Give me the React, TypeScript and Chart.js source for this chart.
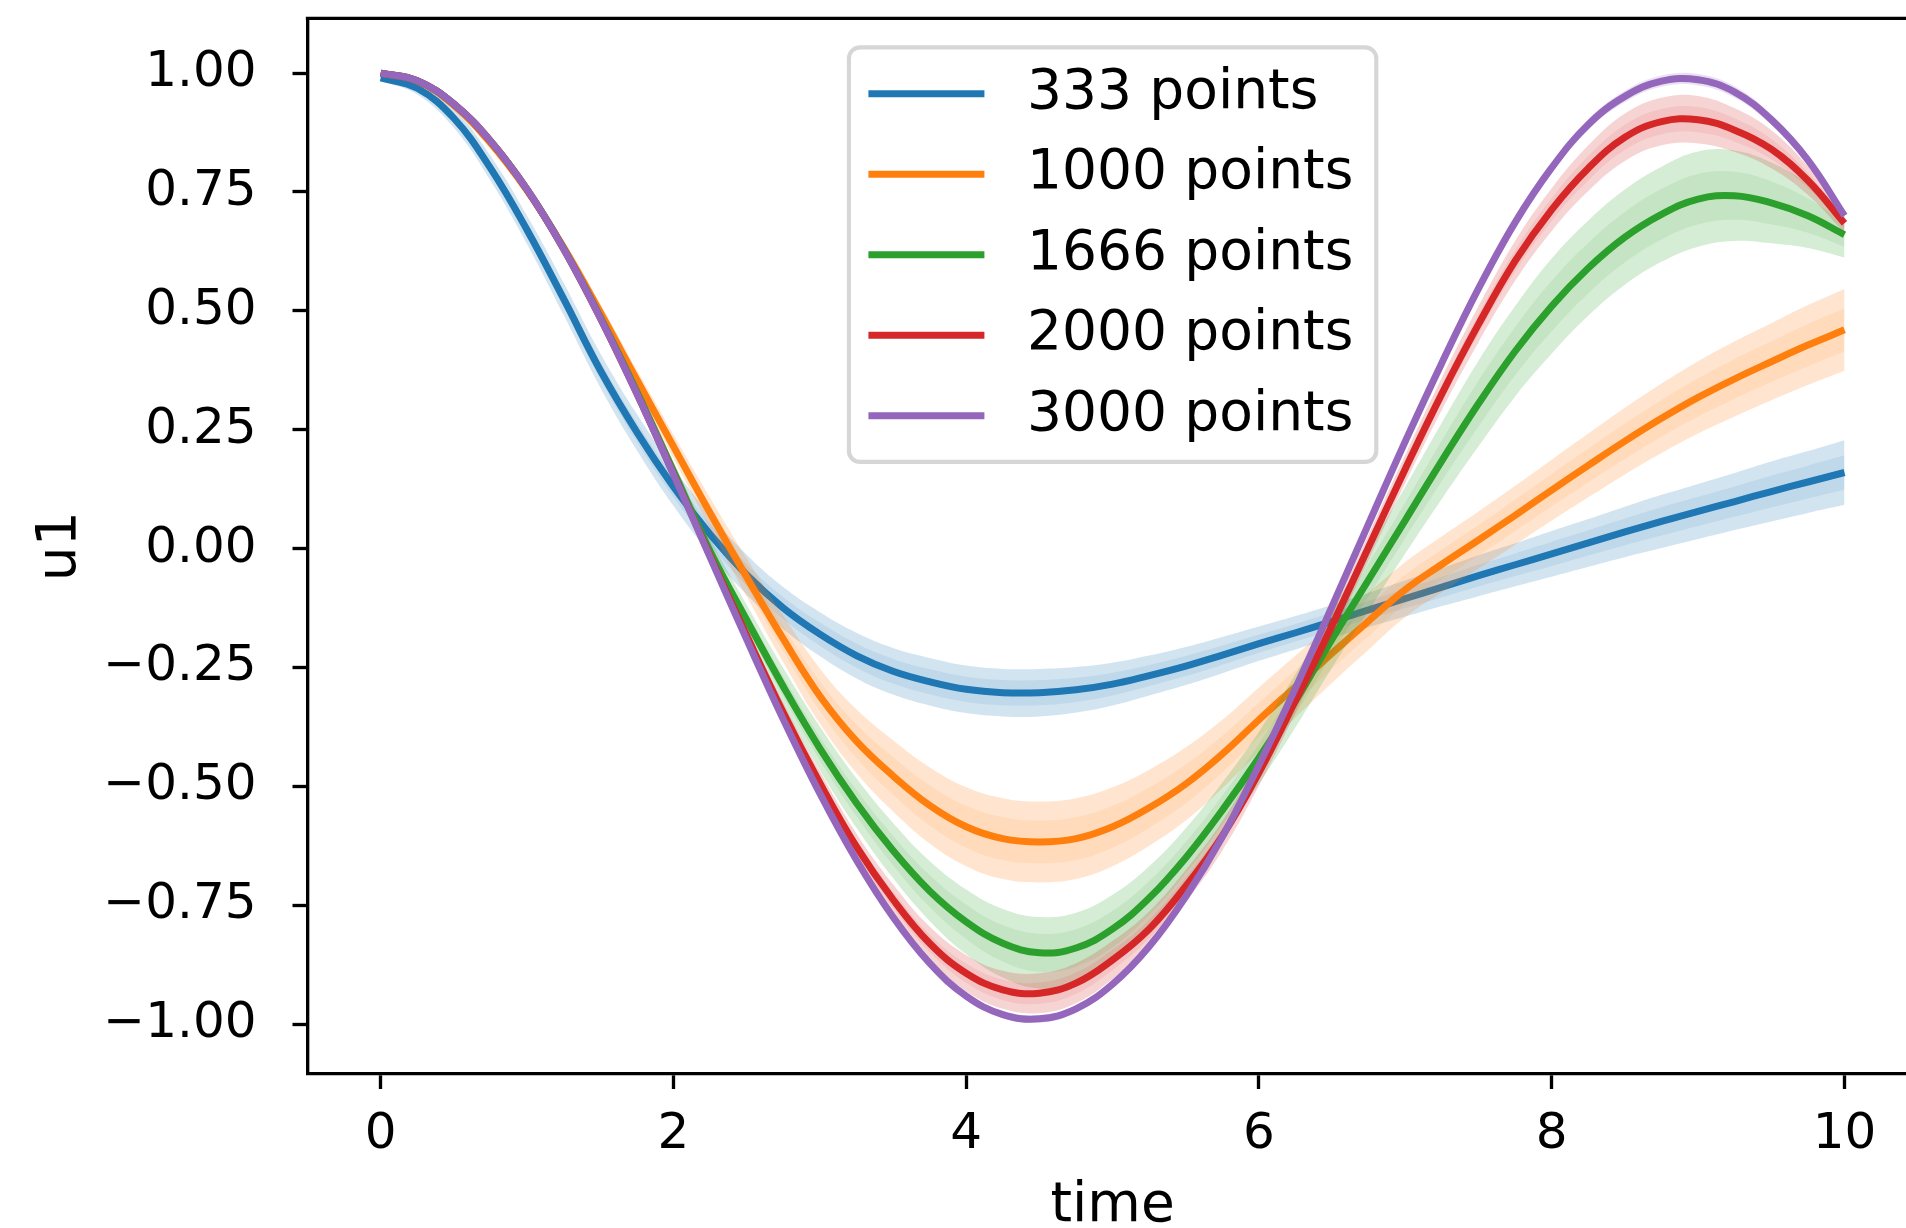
import React, { useEffect, useRef } from "react";
import { Chart, registerables } from "chart.js";

Chart.register(...registerables);

// Sampling times
const TIME = [
  0, 0.25, 0.5, 0.75, 1, 1.25, 1.5, 1.75, 2, 2.25, 2.5, 2.75, 3, 3.25, 3.5, 3.75, 4, 4.25, 4.5, 4.75,
  5, 5.25, 5.5, 5.75, 6, 6.25, 6.5, 6.75, 7, 7.25, 7.5, 7.75, 8, 8.25, 8.5, 8.75, 9, 9.25, 9.5, 9.75, 10,
];

const SERIES_LABELS = ["333 points", "1000 points", "1666 points", "2000 points", "3000 points"];
const SERIES_COLORS = ["#1f77b4", "#ff7f0e", "#2ca02c", "#d62728", "#9467bd"];

// Mean prediction of u1 for each training-set size
const MEAN_333 = [
  0.99, 0.968, 0.905, 0.8, 0.67, 0.525, 0.375, 0.245, 0.13, 0.03, -0.055, -0.125, -0.18, -0.225, -0.258, -0.28,
  -0.296, -0.303, -0.303, -0.297, -0.285, -0.267, -0.247, -0.224, -0.2, -0.177, -0.153, -0.129, -0.105, -0.081,
  -0.057, -0.034, -0.011, 0.012, 0.035, 0.057, 0.078, 0.099, 0.12, 0.14, 0.16,
];
const MEAN_1000 = [
  1.0, 0.983, 0.932, 0.853, 0.753, 0.633, 0.497, 0.355, 0.215, 0.075, -0.06, -0.19, -0.31, -0.405, -0.478, -0.54,
  -0.585, -0.61, -0.617, -0.61, -0.585, -0.545, -0.495, -0.432, -0.36, -0.29, -0.22, -0.152, -0.086, -0.033,
  0.018, 0.07, 0.123, 0.175, 0.226, 0.274, 0.318, 0.357, 0.393, 0.428, 0.46,
];
const MEAN_1666 = [
  1.0, 0.984, 0.935, 0.857, 0.755, 0.631, 0.487, 0.33, 0.163, -0.005, -0.15, -0.29, -0.42, -0.535, -0.635, -0.72,
  -0.785, -0.83, -0.85, -0.84, -0.8, -0.735, -0.65, -0.55, -0.44, -0.32, -0.19, -0.065, 0.06, 0.185,
  0.305, 0.415, 0.51, 0.59, 0.655, 0.703, 0.735, 0.742, 0.727, 0.7, 0.66,
];
const MEAN_2000 = [
  1.0, 0.984, 0.935, 0.857, 0.755, 0.63, 0.485, 0.326, 0.157, -0.015, -0.183, -0.345, -0.493, -0.627, -0.738, -0.83,
  -0.893, -0.928, -0.935, -0.914, -0.865, -0.8, -0.71, -0.604, -0.471, -0.319, -0.161, 0.004, 0.168, 0.326,
  0.472, 0.605, 0.713, 0.8, 0.865, 0.898, 0.902, 0.88, 0.84, 0.774, 0.684,
];
const MEAN_3000 = [
  1.0, 0.984, 0.935, 0.857, 0.755, 0.63, 0.485, 0.326, 0.156, -0.018, -0.191, -0.359, -0.515, -0.655, -0.775, -0.872,
  -0.941, -0.98, -0.989, -0.968, -0.916, -0.837, -0.732, -0.606, -0.455, -0.293, -0.121, 0.053, 0.226, 0.391,
  0.547, 0.686, 0.801, 0.892, 0.951, 0.983, 0.986, 0.96, 0.902, 0.817, 0.7,
];

// Outer half-width of the uncertainty band for each series
const SPREAD_333 = [
  0.006, 0.013, 0.02, 0.026, 0.03, 0.034, 0.036, 0.038, 0.04, 0.041, 0.042, 0.044, 0.046, 0.048, 0.049, 0.05,
  0.05, 0.05, 0.05, 0.048, 0.045, 0.042, 0.04, 0.038, 0.036, 0.035, 0.035, 0.036, 0.038, 0.04,
  0.043, 0.045, 0.048, 0.05, 0.053, 0.056, 0.058, 0.06, 0.063, 0.065, 0.068,
];
const SPREAD_1000 = [
  0.004, 0.006, 0.008, 0.01, 0.012, 0.015, 0.018, 0.021, 0.025, 0.032, 0.04, 0.049, 0.058, 0.067, 0.075, 0.08,
  0.083, 0.085, 0.085, 0.085, 0.083, 0.08, 0.077, 0.072, 0.068, 0.065, 0.062, 0.06, 0.058, 0.059,
  0.06, 0.062, 0.064, 0.067, 0.07, 0.073, 0.076, 0.079, 0.081, 0.084, 0.086,
];
const SPREAD_1666 = [
  0.003, 0.004, 0.006, 0.008, 0.01, 0.012, 0.014, 0.017, 0.02, 0.026, 0.032, 0.039, 0.046, 0.052, 0.058, 0.063,
  0.068, 0.072, 0.075, 0.074, 0.072, 0.067, 0.062, 0.058, 0.055, 0.056, 0.06, 0.065, 0.07, 0.08,
  0.09, 0.095, 0.1, 0.1, 0.1, 0.1, 0.1, 0.095, 0.085, 0.068, 0.048,
];
const SPREAD_2000 = [
  0.003, 0.004, 0.005, 0.006, 0.007, 0.008, 0.009, 0.01, 0.012, 0.015, 0.018, 0.021, 0.025, 0.028, 0.032, 0.035,
  0.038, 0.04, 0.042, 0.042, 0.04, 0.037, 0.034, 0.031, 0.028, 0.026, 0.025, 0.027, 0.03, 0.034,
  0.038, 0.042, 0.045, 0.048, 0.05, 0.05, 0.05, 0.046, 0.04, 0.03, 0.02,
];
const SPREAD_3000 = [
  0.003, 0.003, 0.003, 0.003, 0.004, 0.004, 0.004, 0.004, 0.005, 0.005, 0.005, 0.005, 0.006, 0.006, 0.007, 0.007,
  0.008, 0.008, 0.008, 0.008, 0.008, 0.008, 0.007, 0.007, 0.006, 0.006, 0.006, 0.006, 0.007, 0.008,
  0.008, 0.009, 0.01, 0.011, 0.012, 0.012, 0.012, 0.012, 0.011, 0.01, 0.008,
];

const MEANS = [MEAN_333, MEAN_1000, MEAN_1666, MEAN_2000, MEAN_3000];
const SPREADS = [SPREAD_333, SPREAD_1000, SPREAD_1666, SPREAD_2000, SPREAD_3000];
const INNER_RATIO = 0.53;

const X_TICKS = [0, 2, 4, 6, 8, 10];
const Y_TICKS = [-1, -0.75, -0.5, -0.25, 0, 0.25, 0.5, 0.75, 1];

const FONT_FAMILY = "'DejaVu Sans', 'Liberation Sans', sans-serif";
const TICK_FS = 50;
const LABEL_FS = 55;
const LEGEND_FS = 55;
const SPINE_W = 3.33;
const LINE_W = 7;

const CANVAS_W = 1920;
const CANVAS_H = 1228;
const PLOT_TOP = 18.4;
const PLOT_BOTTOM = 1074;
const PLOT_LEFT = 307.5;
const PLOT_RIGHT = 1917.7;

function hexToRgba(hex: string, a: number) {
  const n = parseInt(hex.slice(1), 16);
  return `rgba(${(n >> 16) & 255}, ${(n >> 8) & 255}, ${n & 255}, ${a})`;
}

function fmtTick(v: number) {
  return v.toFixed(2).replace("-", "\u2212");
}

function buildDatasets() {
  const ds: any[] = [];
  MEANS.forEach((mean, i) => {
    const spread = SPREADS[i];
    const color = SERIES_COLORS[i];
    const pts = (k: number) => TIME.map((t, j) => ({ x: t, y: mean[j] + k * spread[j] }));
    const band = (k: number, fillAlpha: number) => {
      ds.push({
        label: `_band_hi_${i}_${k}`,
        data: pts(k),
        borderWidth: 0,
        borderColor: "transparent",
        pointRadius: 0,
        fill: "+1",
        backgroundColor: hexToRgba(color, fillAlpha),
      });
      ds.push({
        label: `_band_lo_${i}_${k}`,
        data: pts(-k),
        borderWidth: 0,
        borderColor: "transparent",
        pointRadius: 0,
        fill: false,
      });
    };
    band(1, 0.2);
    band(INNER_RATIO, 0.1);
    ds.push({
      label: SERIES_LABELS[i],
      data: TIME.map((t, j) => ({ x: t, y: mean[j] })),
      borderColor: color,
      borderWidth: LINE_W,
      pointRadius: 0,
      fill: false,
      borderJoinStyle: "round",
      borderCapStyle: "butt",
    });
  });
  // draw in sequence: earlier datasets underneath later ones
  ds.forEach((d, j) => {
    d.order = 1000 - j;
    d.tension = 0.4;
  });
  return ds;
}

const framePlugin = {
  id: "frameSpines",
  afterDatasetsDraw(chart: any) {
    const { ctx, chartArea: a } = chart;
    ctx.save();
    ctx.strokeStyle = "#000";
    ctx.lineWidth = SPINE_W;
    ctx.lineCap = "square";
    ctx.beginPath();
    ctx.moveTo(a.left, a.top);
    ctx.lineTo(a.right, a.top);
    ctx.lineTo(a.right, a.bottom);
    ctx.stroke();
    ctx.restore();
  },
};

const legendPlugin = {
  id: "boxedLegend",
  afterDatasetsDraw(chart: any) {
    const { ctx, chartArea: a } = chart;
    const padX = 19.5;
    const padR = 23;
    const padY = 18.5;
    const handleLen = 116;
    const handleGap = 42.5;
    const rowPitch = 80.5;
    const textH = 55.5;
    ctx.save();
    ctx.font = `${LEGEND_FS}px ${FONT_FAMILY}`;
    const textW = Math.max(...SERIES_LABELS.map((s) => ctx.measureText(s).width));
    const w = padX + handleLen + handleGap + textW + padR;
    const h = padY * 2 + SERIES_LABELS.length * textH + (SERIES_LABELS.length - 1) * (rowPitch - textH);
    const cx = (a.left + a.right) / 2;
    const x0 = cx - w / 2;
    const y0 = a.top + 29;
    ctx.beginPath();
    ctx.roundRect(x0, y0, w, h, 11);
    ctx.fillStyle = "rgba(255,255,255,0.8)";
    ctx.fill();
    ctx.lineWidth = 4.17;
    ctx.strokeStyle = "rgba(204,204,204,0.8)";
    ctx.stroke();
    SERIES_LABELS.forEach((lab, i) => {
      const yc = y0 + padY + textH / 2 + i * rowPitch;
      ctx.beginPath();
      ctx.strokeStyle = SERIES_COLORS[i];
      ctx.lineWidth = LINE_W;
      ctx.lineCap = "butt";
      ctx.moveTo(x0 + padX, yc);
      ctx.lineTo(x0 + padX + handleLen, yc);
      ctx.stroke();
      ctx.fillStyle = "#000";
      ctx.textAlign = "left";
      ctx.textBaseline = "middle";
      ctx.fillText(lab, x0 + padX + handleLen + handleGap, yc);
    });
    ctx.restore();
  },
};

export default function App() {
  const ref = useRef<HTMLCanvasElement | null>(null);

  useEffect(() => {
    const canvas = ref.current;
    if (!canvas) return;
    const tickFont = { family: FONT_FAMILY, size: TICK_FS };
    const chart = new Chart(canvas, {
      type: "line",
      data: { datasets: buildDatasets() },
      options: {
        responsive: false,
        animation: false,
        devicePixelRatio: 1,
        layout: {
          autoPadding: false,
          padding: { top: PLOT_TOP, left: 0, right: CANVAS_W - PLOT_RIGHT, bottom: 0 },
        },
        plugins: {
          legend: { display: false },
          tooltip: { enabled: false },
          filler: { drawTime: "beforeDatasetDraw", propagate: false },
        },
        scales: {
          x: {
            type: "linear",
            min: -0.5,
            max: 10.5,
            afterBuildTicks: (s: any) => {
              s.ticks = X_TICKS.map((v) => ({ value: v }));
            },
            afterFit: (s: any) => {
              s.height = CANVAS_H - PLOT_BOTTOM;
              s.paddingLeft = 0;
              s.paddingRight = 0;
            },
            ticks: {
              font: tickFont,
              color: "#000",
              padding: 16.5,
              maxRotation: 0,
              autoSkip: false,
              callback: (v: any) => String(v),
            },
            grid: {
              drawOnChartArea: false,
              drawTicks: true,
              tickLength: 15,
              tickWidth: SPINE_W,
              tickColor: "#000",
            },
            border: { display: true, color: "#000", width: SPINE_W },
            title: {
              display: true,
              text: "time",
              font: { family: FONT_FAMILY, size: LABEL_FS, lineHeight: 1 },
              color: "#000",
              padding: { top: 0, bottom: -6.5 },
            },
          },
          y: {
            type: "linear",
            min: -1.105,
            max: 1.115,
            afterBuildTicks: (s: any) => {
              s.ticks = Y_TICKS.map((v) => ({ value: v }));
            },
            afterFit: (s: any) => {
              s.width = PLOT_LEFT;
              s.paddingTop = 0;
              s.paddingBottom = 0;
            },
            ticks: {
              font: tickFont,
              color: "#000",
              padding: 36,
              autoSkip: false,
              callback: (v: any) => fmtTick(Number(v)),
            },
            grid: {
              drawOnChartArea: false,
              drawTicks: true,
              tickLength: 15,
              tickWidth: SPINE_W,
              tickColor: "#000",
            },
            border: { display: true, color: "#000", width: SPINE_W },
            title: {
              display: true,
              text: "u1",
              font: { family: FONT_FAMILY, size: LABEL_FS, lineHeight: 1.2 },
              color: "#000",
              padding: { top: 28, bottom: 0 },
            },
          },
        },
      },
      plugins: [framePlugin, legendPlugin],
    } as any);
    return () => chart.destroy();
  }, []);

  return (
    <canvas
      ref={ref}
      width={CANVAS_W}
      height={CANVAS_H}
      style={{ position: "fixed", left: 0, top: 0, width: CANVAS_W, height: CANVAS_H, display: "block", background: "#fff" }}
    />
  );
}
